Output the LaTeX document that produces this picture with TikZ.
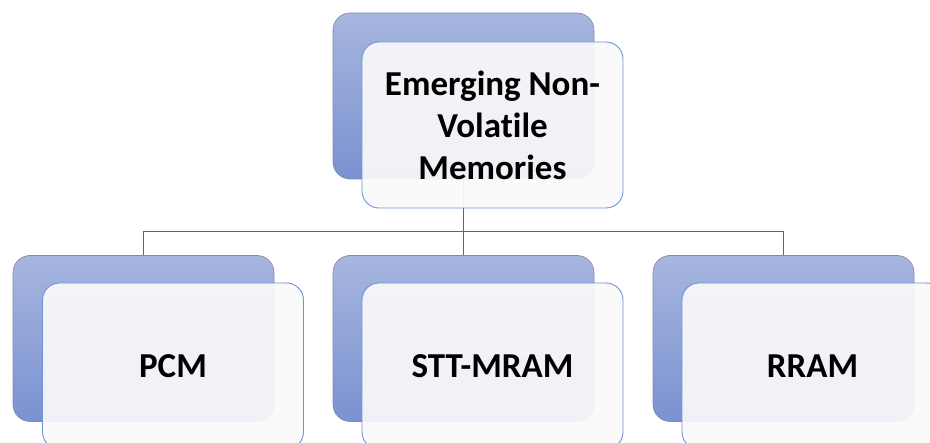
\documentclass[tikz,border=0pt]{standalone}
\usepackage{fontspec}
\setmainfont{Carlito}[Ligatures=NoCommon]
\begin{document}
\begin{tikzpicture}[x=1pt,y=-1pt,
  backcard/.style={rectangle, rounded corners=17pt, minimum width=261pt, minimum height=166pt,
    inner sep=0pt, top color=cardtop, bottom color=cardbot, draw=cardedge, line width=0.6pt},
  frontcard/.style={rectangle, rounded corners=17pt, minimum width=261pt, minimum height=166pt,
    inner sep=0pt, fill=frontfill, fill opacity=0.92, text opacity=1, draw=frontedge, line width=0.9pt,
    font=\bfseries\fontsize{35}{42}\selectfont, align=center, text=black},
  link/.style={draw=linkcol, line width=0.9pt}]
\definecolor{cardtop}{HTML}{A7B6DF}
\definecolor{cardbot}{HTML}{7A92D1}
\definecolor{cardedge}{HTML}{7E8AA6}
\definecolor{frontfill}{HTML}{FAFAFA}
\definecolor{frontedge}{HTML}{6F93D6}
\definecolor{linkcol}{HTML}{4766A6}
\clip (0,0) rectangle (930,443);
\useasboundingbox (0,0) rectangle (930,443);
\fill[white] (0,0) rectangle (930,443);

% rear cards
\node[backcard] (tb) at (463.5,96) {};
\node[backcard] (pb) at (143.5,338.5) {};
\node[backcard] (sb) at (463.5,338.5) {};
\node[backcard] (rb) at (783.5,338.5) {};

% tree connectors
\coordinate (bus) at (463.5,231);
\draw[link] (tb.south) -- (tb.south |- bus) -| (pb.north);
\draw[link] (tb.south |- bus) -- (sb.north);
\draw[link] (tb.south |- bus) -| (rb.north);

% front cards with labels
\node[frontcard] (tf) at (492.5,125) {Emerging Non-\\Volatile\\Memories};
\node[frontcard] (pf) at (173,366) {PCM};
\node[frontcard] (sf) at (492.5,366) {STT-MRAM};
\node[frontcard] (rf) at (812.5,366) {RRAM};
\end{tikzpicture}
\end{document}
